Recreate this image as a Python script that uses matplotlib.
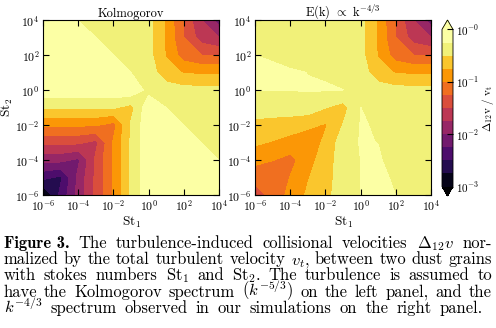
import numpy as np
import matplotlib
matplotlib.use("Agg")
import matplotlib.pyplot as plt
from matplotlib.colors import ListedColormap, Normalize

plt.rcParams["font.family"] = "cmr10"
plt.rcParams["mathtext.fontset"] = "cm"
plt.rcParams["axes.formatter.use_mathtext"] = True
plt.rcParams["axes.unicode_minus"] = True

# grid nodes: log10(St) one decade apart
log_st = [-6, -5, -4, -3, -2, -1, 0, 1, 2, 3, 4]

# log10(Delta_12 v / v_t); rows = St2 (-6..4), columns = St1 (-6..4)
kolmogorov = [
    [-3.03, -2.43, -1.93, -1.45, -0.97, -0.47, -0.07, -0.15, -0.15, -0.15, -0.15],
    [-2.43, -2.55, -1.93, -1.45, -0.97, -0.47, -0.07, -0.15, -0.15, -0.15, -0.15],
    [-1.93, -1.93, -2.05, -1.45, -0.97, -0.47, -0.07, -0.15, -0.15, -0.15, -0.251],
    [-1.45, -1.45, -1.45, -1.57, -0.97, -0.47, -0.07, -0.15, -0.15, -0.251, -0.35],
    [-0.97, -0.97, -0.97, -0.97, -1.09, -0.47, -0.07, -0.15, -0.251, -0.35, -0.35],
    [-0.47, -0.47, -0.47, -0.47, -0.47, -0.59, -0.07, -0.251, -0.35, -0.35, -0.35],
    [-0.07, -0.07, -0.07, -0.07, -0.07, -0.07, -0.33, -0.38, -0.415, -0.42, -0.42],
    [-0.15, -0.15, -0.15, -0.15, -0.15, -0.251, -0.38, -0.64, -0.77, -0.79, -0.79],
    [-0.15, -0.15, -0.15, -0.15, -0.251, -0.35, -0.415, -0.77, -1.12, -1.25, -1.27],
    [-0.15, -0.15, -0.15, -0.251, -0.35, -0.35, -0.42, -0.79, -1.25, -1.62, -1.75],
    [-0.15, -0.15, -0.251, -0.35, -0.35, -0.35, -0.42, -0.79, -1.27, -1.75, -2.12],
]

k43 = [
    [-1.40, -1.155, -0.93, -0.71, -0.555, -0.40, -0.249, -0.15, -0.251, -0.35, -0.35],
    [-1.155, -1.24, -0.99, -0.77, -0.58, -0.40, -0.249, -0.15, -0.311, -0.35, -0.35],
    [-0.93, -0.99, -1.08, -0.85, -0.62, -0.38, -0.249, -0.22, -0.35, -0.35, -0.35],
    [-0.71, -0.77, -0.85, -0.93, -0.69, -0.37, -0.235, -0.253, -0.35, -0.35, -0.35],
    [-0.555, -0.58, -0.62, -0.69, -0.776, -0.49, -0.24, -0.262, -0.35, -0.35, -0.35],
    [-0.40, -0.40, -0.38, -0.37, -0.49, -0.60, -0.249, -0.30, -0.35, -0.35, -0.35],
    [-0.249, -0.249, -0.249, -0.235, -0.24, -0.249, -0.51, -0.38, -0.415, -0.42, -0.42],
    [-0.15, -0.15, -0.22, -0.253, -0.262, -0.30, -0.38, -0.64, -0.77, -0.79, -0.79],
    [-0.251, -0.311, -0.35, -0.35, -0.35, -0.35, -0.415, -0.77, -1.12, -1.25, -1.27],
    [-0.35, -0.35, -0.35, -0.35, -0.35, -0.35, -0.42, -0.79, -1.25, -1.62, -1.75],
    [-0.35, -0.35, -0.35, -0.35, -0.35, -0.35, -0.42, -0.79, -1.27, -1.75, -2.12],
]

levels = [-3.0, -2.75, -2.5, -2.25, -2.0, -1.75, -1.5, -1.25, -1.0, -0.75, -0.5, -0.25, 0.0]
tick_pos = [-6, -4, -2, 0, 2, 4]
tick_labels = [r"$10^{-6}$", r"$10^{-4}$", r"$10^{-2}$", r"$10^{0}$", r"$10^{2}$", r"$10^{4}$"]
cbar_ticks = [-3, -2, -1, 0]
cbar_labels = [r"$10^{-3}$", r"$10^{-2}$", r"$10^{-1}$", r"$10^{-0}$"]
titles = ["Kolmogorov", r"E(k) $\propto$ k$^{-4/3}$"]

caption = [
    [("Figure 3.", True), "The", "turbulence-induced", "collisional", "velocities",
     r"$\Delta_{12}v$", "nor-"],
    ["malized", "by", "the", "total", "turbulent", "velocity", r"$v_t$,", "between",
     "two", "dust", "grains"],
    ["with", "stokes", "numbers", r"St$_1$", "and", r"St$_2$.", "The", "turbulence",
     "is", "assumed", "to"],
    ["have", "the", "Kolmogorov", "spectrum", r"($k^{-5/3}$)", "on", "the", "left",
     "panel,", "and", "the"],
    [r"$k^{-4/3}$", "spectrum", "observed", "in", "our", "simulations", "on", "the",
     "right", "panel."],
]

W, H = 496, 328
base = plt.get_cmap("inferno")
nband = len(levels) - 1
cmap = ListedColormap(base(np.clip((np.arange(nband) + 0.5) / (nband - 1), 0, 1)))
cmap.set_under(base(0.0))
cmap.set_over(base(1.0))
norm = Normalize(vmin=levels[0], vmax=levels[-1])

fig = plt.figure(figsize=(W / 100, H / 100), dpi=100)
ax1 = fig.add_axes([43 / W, 1 - 195 / H, 176 / W, 175 / H])
ax2 = fig.add_axes([255 / W, 1 - 195 / H, 176 / W, 175 / H])
cax = fig.add_axes([442 / W, 1 - 196 / H, 11 / W, 176 / H])

for ax, z, title in zip((ax1, ax2), (kolmogorov, k43), titles):
    cs = ax.contourf(log_st, log_st, np.array(z), levels=levels, cmap=cmap,
                     norm=norm, extend="both")
    ax.set_xlim(-6, 4)
    ax.set_ylim(-6, 4)
    ax.set_xticks(tick_pos)
    ax.set_xticklabels(tick_labels)
    ax.set_yticks(tick_pos)
    ax.set_yticklabels(tick_labels)
    ax.tick_params(direction="in", top=True, right=True, length=4, width=0.8,
                   labelsize=8.5, pad=2.5)
    ax.set_title(title, fontsize=9, pad=2.5)
    ax.set_xlabel(r"St$_1$", fontsize=9.5, labelpad=1)
    for s in ax.spines.values():
        s.set_linewidth(0.8)
ax1.set_ylabel(r"St$_2$", fontsize=9.5, labelpad=0)

cb = fig.colorbar(cs, cax=cax, extendfrac=0.06, ticks=cbar_ticks)
cb.set_ticklabels(cbar_labels)
cb.ax.tick_params(direction="in", length=4, width=0.8, labelsize=8, pad=2)
cb.outline.set_linewidth(0.6)
cb.set_label(r"$\Delta_{12}\mathrm{v}\ /\ \mathrm{v_t}$", fontsize=8, labelpad=1)

# caption, justified line by line like the paper's column
renderer = fig.canvas.get_renderer()
probe = fig.text(0, 0, " ".join(caption[-1]), fontsize=10, family="cmr10")
size = 10 * 456 / probe.get_window_extent(renderer).width
probe.remove()

x0 = 3.5
right_edges = [492.0, 492.0, 492.0, 492.0, 483.0]
baselines = [248.3, 264.3, 280.4, 296.6, 312.8]
for line, yb, x1 in zip(caption, baselines, right_edges):
    texts = []
    for tok in line:
        bold = isinstance(tok, tuple)
        word = tok[0] if bold else tok
        texts.append(fig.text(0, 1 - yb / H, word, fontsize=size,
                              family="cmb10" if bold else "cmr10",
                              math_fontfamily="cm", va="baseline", ha="left"))
    widths = [t.get_window_extent(renderer).width for t in texts]
    gap = (x1 - x0 - sum(widths)) / (len(texts) - 1)
    x = x0
    for t, w in zip(texts, widths):
        t.set_x(x / W)
        x += w + gap

fig.savefig("out.png", dpi=100)
